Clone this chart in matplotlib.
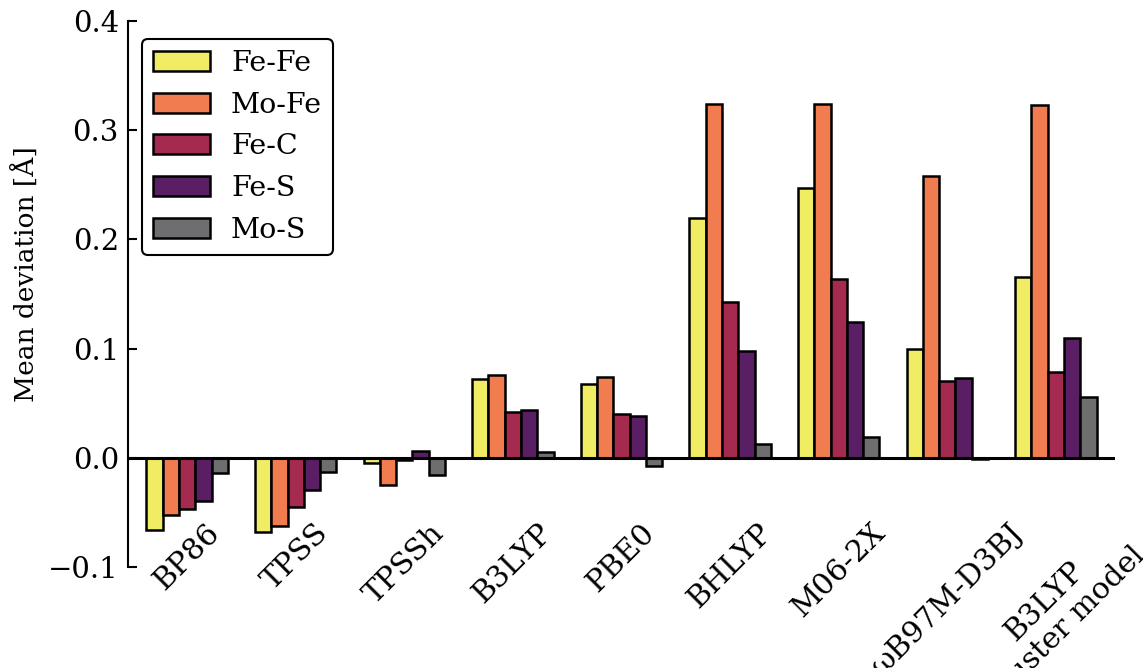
import numpy as np
import matplotlib.pyplot as plt

methods = ['BP86', 'TPSS', 'TPSSh', 'B3LYP', 'PBE0', 'BHLYP', 'M06-2X',
           'ωB97M-D3BJ', 'B3LYP\ncluster model']
bonds = ['Fe-Fe', 'Mo-Fe', 'Fe-C', 'Fe-S', 'Mo-S']

fe_fe = [-0.066, -0.068, -0.005, 0.072, 0.068, 0.220, 0.247, 0.100, 0.166]
mo_fe = [-0.052, -0.062, -0.025, 0.076, 0.074, 0.324, 0.324, 0.258, 0.323]
fe_c = [-0.047, -0.045, -0.002, 0.042, 0.040, 0.143, 0.164, 0.070, 0.079]
fe_s = [-0.039, -0.029, 0.006, 0.044, 0.038, 0.098, 0.124, 0.073, 0.110]
mo_s = [-0.014, -0.013, -0.016, 0.005, -0.007, 0.013, 0.019, -0.001, 0.056]

colors = ['#f0ec64', '#f07c50', '#a52a50', '#5a1e64', '#6e6e70']

plt.rcParams['font.family'] = 'DejaVu Serif'

fig = plt.figure(figsize=(11.43, 6.68), dpi=100)
ax = fig.add_axes([0.112, 0.151, 0.8635, 0.8176])

x = np.arange(len(methods))
width = 0.15
for k, (vals, lab) in enumerate(zip([fe_fe, mo_fe, fe_c, fe_s, mo_s], bonds)):
    ax.bar(x + (k - 2) * width, vals, width, color=colors[k],
           edgecolor='black', linewidth=1.8, label=lab, zorder=2)

ax.axhline(0, color='black', linewidth=2.2, zorder=3)
ax.set_xlim(-0.545, 8.545)
ax.set_ylim(-0.1, 0.4)
ax.set_yticks([-0.1, 0.0, 0.1, 0.2, 0.3, 0.4])
ax.set_xticks(x)
ax.set_xticklabels(methods, rotation=45, fontsize=21.5)
ax.tick_params(axis='x', length=0, pad=-35)
ax.tick_params(axis='y', labelsize=21, direction='in', length=6.5,
               width=1.5, pad=6.5)
ax.set_ylabel('Mean deviation [Å]', fontsize=19)
ax.yaxis.set_label_coords(-0.09, 0.537)

for s in ['top', 'right', 'bottom']:
    ax.spines[s].set_visible(False)
ax.spines['left'].set_linewidth(1.5)

leg = ax.legend(loc='upper left', bbox_to_anchor=(0.014, 0.967), fontsize=20.5,
                handlelength=2.0, handletextpad=0.75, borderpad=0.38,
                labelspacing=0.52, borderaxespad=0,
                framealpha=1, edgecolor='black', fancybox=True)
leg.get_frame().set_linewidth(1.5)

fig.savefig('out.png', dpi=100)
